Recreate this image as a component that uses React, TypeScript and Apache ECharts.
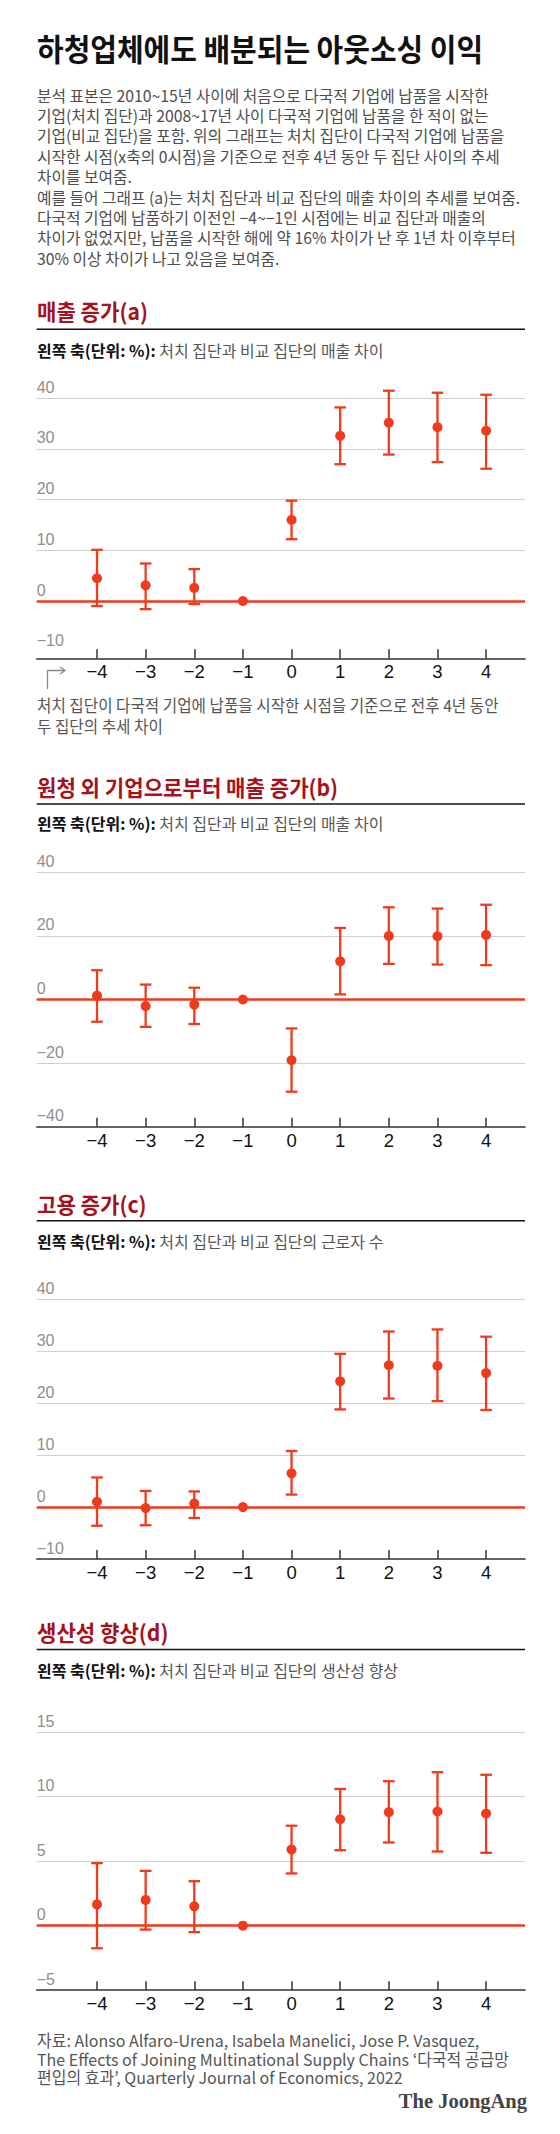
import React, { useEffect, useRef } from "react";
import * as echarts from "echarts";

// ---------- data ----------
const periods = [-4, -3, -2, -1, 0, 1, 2, 3, 4];

// (a) 매출 증가
const salesMid = [4.5, 3.1, 2.6, 0, 16.0, 32.6, 35.2, 34.3, 33.6];
const salesHi = [10.1, 7.4, 6.3, 0, 19.8, 38.2, 41.5, 41.1, 40.7];
const salesLo = [-1.0, -1.6, -0.6, 0, 12.2, 27.0, 28.9, 27.4, 26.1];

// (b) 원청 외 기업으로부터 매출 증가
const otherMid = [1.2, -2.1, -1.6, 0, -19.1, 12.0, 20.0, 19.9, 20.3];
const otherHi = [9.2, 4.7, 3.7, 0, -9.1, 22.5, 29.0, 28.6, 29.8];
const otherLo = [-7.0, -8.6, -7.7, 0, -29.0, 1.6, 11.2, 11.0, 10.8];

// (c) 고용 증가
const empMid = [1.0, -0.2, 0.7, 0, 6.5, 24.2, 27.3, 27.2, 25.8];
const empHi = [5.7, 3.1, 3.0, 0, 10.8, 29.5, 33.8, 34.2, 32.8];
const empLo = [-3.6, -3.5, -2.1, 0, 2.4, 18.8, 20.9, 20.4, 18.7];

// (d) 생산성 향상
const prodMid = [1.65, 2.0, 1.5, 0, 5.9, 8.25, 8.8, 8.85, 8.7];
const prodHi = [4.85, 4.25, 3.45, 0, 7.75, 10.6, 11.2, 11.9, 11.7];
const prodLo = [-1.75, -0.3, -0.5, 0, 4.05, 5.85, 6.45, 5.75, 5.65];

// y-axis ranges [min, max, interval]
const yRangeA = [-10, 40, 10];
const yRangeB = [-40, 40, 20];
const yRangeC = [-10, 40, 10];
const yRangeD = [-5, 15, 5];

const panelTitles = ["매출 증가(a)", "원청 외 기업으로부터 매출 증가(b)", "고용 증가(c)", "생산성 향상(d)"];
const panelSubs = [
  " 처치 집단과 비교 집단의 매출 차이",
  " 처치 집단과 비교 집단의 매출 차이",
  " 처치 집단과 비교 집단의 근로자 수",
  " 처치 집단과 비교 집단의 생산성 향상",
];
const subLead = "왼쪽 축(단위: %):";

const headline = "하청업체에도 배분되는 아웃소싱 이익";
const bodyLines = [
  "분석 표본은 2010~15년 사이에 처음으로 다국적 기업에 납품을 시작한",
  "기업(처치 집단)과 2008~17년 사이 다국적 기업에 납품을 한 적이 없는",
  "기업(비교 집단)을 포함. 위의 그래프는 처치 집단이 다국적 기업에 납품을",
  "시작한 시점(x축의 0시점)을 기준으로 전후 4년 동안 두 집단 사이의 추세",
  "차이를 보여줌.",
  "예를 들어 그래프 (a)는 처치 집단과 비교 집단의 매출 차이의 추세를 보여줌.",
  "다국적 기업에 납품하기 이전인 −4~−1인 시점에는 비교 집단과 매출의",
  "차이가 없었지만, 납품을 시작한 해에 약 16% 차이가 난 후 1년 차 이후부터",
  "30% 이상 차이가 나고 있음을 보여줌.",
];
const captionLines = [
  "처치 집단이 다국적 기업에 납품을 시작한 시점을 기준으로 전후 4년 동안",
  "두 집단의 추세 차이",
];
const sourceLines = [
  "자료: Alonso Alfaro-Urena, Isabela Manelici, Jose P. Vasquez,",
  "The Effects of Joining Multinational Supply Chains ‘다국적 공급망",
  "편입의 효과’, Quarterly Journal of Economics, 2022",
];
const brand = "The JoongAng";

// ---------- styling / layout ----------
const RED = "#f03a1c";
const DARKRED = "#a5121c";
const KR = "'Noto Sans CJK KR', 'Noto Sans', sans-serif";
const NUM = "'Liberation Sans', Arial, sans-serif";
const W = 560;
const H = 2134;
const LEFT = 36.7;
const RIGHT_EDGE = 525;

const layout = [
  { titleY: 310, ruleY: 329.3, subY: 350, top: 398.3, bottom: 651.7, offset: 6.6 },
  { titleY: 786, ruleY: 804, subY: 823.3, top: 872.3, bottom: 1126.7, offset: 0 },
  { titleY: 1203.3, ruleY: 1220.7, subY: 1240.7, top: 1299.3, bottom: 1559, offset: 0 },
  { titleY: 1631.3, ruleY: 1649.5, subY: 1669.6, top: 1732.2, bottom: 1990.2, offset: 0 },
];

const minus = (v: number) => String(v).replace("-", "−");

function buildOption() {
  const panels = [
    { mid: salesMid, hi: salesHi, lo: salesLo, yr: yRangeA },
    { mid: otherMid, hi: otherHi, lo: otherLo, yr: yRangeB },
    { mid: empMid, hi: empHi, lo: empLo, yr: yRangeC },
    { mid: prodMid, hi: prodHi, lo: prodLo, yr: yRangeD },
  ];

  const grid: any[] = [];
  const xAxis: any[] = [];
  const yAxis: any[] = [];
  const series: any[] = [];

  panels.forEach((p, i) => {
    const L = layout[i];
    grid.push({
      left: LEFT,
      width: RIGHT_EDGE - LEFT,
      top: L.top,
      height: L.bottom - L.top,
      containLabel: false,
      outerBoundsMode: "none",
    });
    xAxis.push({
      gridIndex: i,
      type: "value",
      min: -5.24,
      max: 4.8,
      offset: L.offset,
      axisLine: { show: true, onZero: false, lineStyle: { color: "#333", width: 1.6 } },
      axisTick: {
        show: true,
        inside: true,
        length: 9,
        customValues: periods,
        lineStyle: { color: "#333", width: 1.5 },
      },
      axisLabel: {
        show: true,
        customValues: periods,
        margin: 4,
        color: "#111",
        fontSize: 18.5,
        fontFamily: NUM,
        formatter: (v: number) => minus(v),
      },
      splitLine: { show: false },
    });
    yAxis.push({
      gridIndex: i,
      type: "value",
      min: p.yr[0],
      max: p.yr[1],
      interval: p.yr[2],
      axisLine: { show: false },
      axisTick: { show: false },
      splitLine: { show: true, showMinLine: false, lineStyle: { color: "#d0d0d0", width: 1 } },
      axisLabel: {
        inside: true,
        margin: 0,
        verticalAlign: "bottom",
        padding: [0, 0, 3, 0],
        color: "#8e8e8e",
        fontSize: 16,
        fontFamily: NUM,
        formatter: (v: number) => minus(v),
      },
    });
    series.push({
      type: "custom",
      xAxisIndex: i,
      yAxisIndex: i,
      clip: false,
      z: 3,
      data: periods.map((x, j) => [x, p.lo[j], p.hi[j]]),
      encode: { x: 0, y: [1, 2] },
      renderItem: (params: any, api: any) => {
        const x = api.value(0);
        const lo = api.value(1);
        const hi = api.value(2);
        if (lo === hi) return null;
        const a = api.coord([x, hi]);
        const b = api.coord([x, lo]);
        const cw = 5.8;
        const st = { stroke: RED, lineWidth: 2.3 };
        return {
          type: "group",
          children: [
            { type: "line", shape: { x1: a[0], y1: a[1], x2: b[0], y2: b[1] }, style: st },
            { type: "line", shape: { x1: a[0] - cw, y1: a[1], x2: a[0] + cw, y2: a[1] }, style: st },
            { type: "line", shape: { x1: b[0] - cw, y1: b[1], x2: b[0] + cw, y2: b[1] }, style: st },
          ],
        };
      },
    });
    series.push({
      type: "scatter",
      xAxisIndex: i,
      yAxisIndex: i,
      z: 4,
      symbol: "circle",
      symbolSize: 10,
      itemStyle: { color: RED, opacity: 1 },
      data: periods.map((x, j) => [x, p.mid[j]]),
      markLine: {
        silent: true,
        symbol: ["none", "none"],
        label: { show: false },
        lineStyle: { color: RED, width: 2.6, type: "solid" },
        emphasis: { disabled: true },
        data: [{ yAxis: 0 }],
        z: 2,
      },
    });
  });

  const graphic: any[] = [];
  const txt = (
    text: string,
    x: number,
    y: number,
    size: number,
    fill: string,
    weight: string,
    sx: number,
    family = KR,
    align = "left"
  ) => ({
    type: "text",
    x,
    y,
    scaleX: sx,
    style: {
      text,
      x: 0,
      y: 0,
      fill,
      fontSize: size,
      fontWeight: weight,
      fontFamily: family,
      align,
      verticalAlign: "middle",
    },
  });

  graphic.push(txt(headline, 37, 48.3, 30.5, "#111", "bold", 0.95));
  bodyLines.forEach((l, k) => graphic.push(txt(l, 37, 95 + k * 20.4, 16, "#4d4d4d", "normal", 0.985)));

  layout.forEach((L, i) => {
    graphic.push(txt(panelTitles[i], 37, L.titleY, 22, DARKRED, "bold", 0.96));
    graphic.push({
      type: "line",
      shape: { x1: LEFT, y1: L.ruleY, x2: RIGHT_EDGE, y2: L.ruleY },
      style: { stroke: "#111", lineWidth: 1.6 },
    });
    graphic.push({
      type: "text",
      x: 37,
      y: L.subY,
      scaleX: 1.0,
      style: {
        text: "{b|" + subLead + "}{n|" + panelSubs[i] + "}",
        x: 0,
        y: 0,
        fontSize: 16,
        fontFamily: KR,
        verticalAlign: "middle",
        align: "left",
        rich: {
          b: { fill: "#111", color: "#111", fontWeight: "bold", fontSize: 16, fontFamily: KR },
          n: { fill: "#555", color: "#555", fontWeight: "normal", fontSize: 16, fontFamily: KR },
        },
      },
    });
  });

  // arrow + caption for (a)
  graphic.push({
    type: "polyline",
    shape: { points: [[47.5, 689], [47.5, 670.5], [64, 670.5]] },
    style: { stroke: "#888", lineWidth: 1.3, fill: null },
  });
  graphic.push({
    type: "polyline",
    shape: { points: [[60, 667], [65, 670.5], [60, 674]] },
    style: { stroke: "#888", lineWidth: 1.3, fill: null },
  });
  captionLines.forEach((l, k) => graphic.push(txt(l, 37, 705 + k * 21, 16.5, "#555", "normal", 0.95)));

  sourceLines.forEach((l, k) => graphic.push(txt(l, 37, 2040 + k * 18.5, 16.5, "#555", "normal", 0.97)));
  graphic.push(
    txt(brand, RIGHT_EDGE + 2, 2101, 20.5, "#444", "bold", 1, "'Liberation Serif', 'DejaVu Serif', serif", "right")
  );

  return {
    animation: false,
    backgroundColor: "#ffffff",
    grid,
    xAxis,
    yAxis,
    series,
    graphic,
  };
}

export default function App() {
  const ref = useRef<HTMLDivElement>(null);
  useEffect(() => {
    if (!ref.current) return;
    const chart = echarts.init(ref.current, undefined, { renderer: "svg", width: W, height: H });
    chart.setOption(buildOption() as any);
    return () => chart.dispose();
  }, []);
  return (
    <div
      ref={ref}
      style={{ position: "absolute", left: 0, top: 0, width: W, height: H, background: "#fff" }}
    />
  );
}
